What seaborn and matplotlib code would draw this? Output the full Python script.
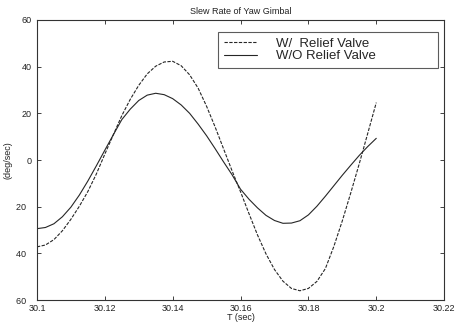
import numpy as np
import pandas as pd
import matplotlib
matplotlib.use("Agg")
import matplotlib.pyplot as plt
import seaborn as sns

# ---- data ----
t = [30.1, 30.1025, 30.105, 30.1075, 30.11, 30.1125, 30.115, 30.1175, 30.12, 30.1225,
     30.125, 30.1275, 30.13, 30.1325, 30.135, 30.1375, 30.14, 30.1425, 30.145, 30.1475,
     30.15, 30.1525, 30.155, 30.1575, 30.16, 30.1625, 30.165, 30.1675, 30.17, 30.1725,
     30.175, 30.1775, 30.18, 30.1825, 30.185, 30.1875, 30.19, 30.1925, 30.195, 30.1975,
     30.2]

with_valve = [-37.2, -36.4, -34.1, -30.3, -25.4, -19.8, -13.5, -6.0, 2.5, 10.8,
              19.0, 26.0, 32.0, 36.9, 40.2, 42.0, 42.3, 40.4, 36.5, 30.8,
              23.0, 14.2, 4.8, -4.6, -13.6, -23.0, -32.1, -40.2, -46.9, -51.9,
              -55.0, -56.0, -55.0, -52.0, -46.5, -37.0, -26.0, -14.0, -1.5, 11.5,
              24.6]

without_valve = [-29.4, -28.9, -27.3, -24.3, -20.2, -15.0, -9.0, -2.5, 4.2, 10.8,
                 17.3, 21.8, 25.5, 27.8, 28.6, 28.0, 26.3, 23.6, 20.0, 15.4,
                 10.4, 4.9, -0.8, -6.3, -12.5, -16.8, -20.5, -23.7, -25.9, -27.1,
                 -27.0, -26.0, -23.5, -19.8, -15.5, -11.0, -6.5, -2.2, 2.0, 5.8,
                 9.3]

series_names = ["W/  Relief Valve", "W/O Relief Valve"]
x_ticks = [30.1, 30.12, 30.14, 30.16, 30.18, 30.2, 30.22]
x_tick_labels = ["30.1", "30.12", "30.14", "30.16", "30.18", "30.2", "30.22"]
y_ticks = [-60, -40, -20, 0, 20, 40, 60]
# the minus signs are faded out in the reference scan; the space they took is kept
y_tick_labels = ["60  ", "40  ", "20  ", "0", "20", "40", "60"]

df = pd.DataFrame({
    "T": t + t,
    "rate": with_valve + without_valve,
    "series": [series_names[0]] * len(t) + [series_names[1]] * len(t),
})

sns.set_style("white")
plt.rcParams["font.family"] = ["Liberation Sans", "DejaVu Sans"]

fig = plt.figure(figsize=(4.56, 3.22), dpi=100)
ax = fig.add_axes([0.081, 0.068, 0.893, 0.870])

sns.lineplot(data=df, x="T", y="rate", hue="series", style="series",
             palette={series_names[0]: "#262626", series_names[1]: "#262626"},
             dashes={series_names[0]: (3, 1.3), series_names[1]: ""},
             linewidth=0.8, ax=ax, legend=True)

ax.set_xlim(30.1, 30.22)
ax.set_ylim(-60, 60)
ax.set_xticks(x_ticks)
ax.set_xticklabels(x_tick_labels)
ax.set_yticks(y_ticks)
ax.set_yticklabels(y_tick_labels)
ax.tick_params(axis="both", direction="in", length=3, width=0.6, labelsize=6.5,
               top=True, right=True, bottom=True, left=True, colors="#222222")
ax.tick_params(axis="x", pad=3)
ax.tick_params(axis="y", pad=4)
for s in ax.spines.values():
    s.set_color("#333333")
    s.set_linewidth(0.8)

ax.set_title("Slew Rate of Yaw Gimbal", fontsize=6.5, pad=4, color="#222222")
ax.set_xlabel("T (sec)", fontsize=6.5, labelpad=0, color="#222222")
ax.set_ylabel("(deg/sec)", fontsize=6.5, labelpad=3, color="#222222")

leg = ax.legend(loc="upper left", bbox_to_anchor=(0.445, 0.958, 0.540, 0.0),
                mode="expand", fontsize=9.5,
                frameon=True, fancybox=False, handlelength=2.5, handletextpad=1.45,
                borderpad=0.45, labelspacing=0.0, borderaxespad=0)
leg.get_frame().set_edgecolor("#333333")
leg.get_frame().set_linewidth(0.8)
leg.set_title(None)

fig.savefig("out.png", dpi=100)
